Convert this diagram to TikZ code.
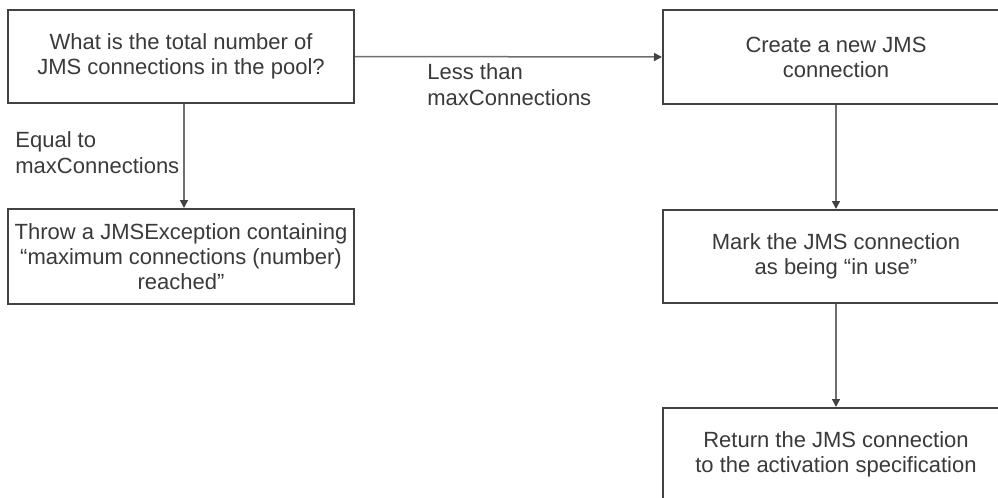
\documentclass[tikz,border=0pt]{standalone}
\usepackage{fontspec}
\setmainfont{Liberation Sans}
\usetikzlibrary{positioning,arrows.meta}
\definecolor{jmsLine}{RGB}{66,66,66}
\definecolor{jmsArrow}{RGB}{110,110,110}
\definecolor{jmsText}{RGB}{58,58,58}

\begin{document}
\begin{tikzpicture}[x=0.5pt, y=-0.5pt,
  stepbox/.style={draw=jmsLine, line width=1pt, fill=white, align=center,
                  text=jmsText, font=\fontsize{11}{12.5}\selectfont,
                  minimum width=173pt, inner sep=0pt},
  branchlabel/.style={align=left, anchor=north west, inner sep=0pt,
                      text=jmsText, font=\fontsize{11}{13}\selectfont},
  flowarr/.style={-{Triangle[length=4pt, width=4pt, color=jmsLine]},
                  line width=0.75pt, jmsArrow}
]
\path[use as bounding box, clip] (0,0) rectangle (998,498);
%% Decision box and its branches
\node[stepbox, minimum height=46.5pt] (ASK)   at (181,56.5)
  {What is the total number of\\JMS connections in the pool?};
\node[stepbox, minimum height=47.5pt] (THROW) at (181,256.5)
  {Throw a JMSException containing\\“maximum connections (number)\\reached”};
%% Right column
\node[stepbox, minimum height=47pt]   (NEW)    at (836,57)
  {Create a new JMS\\connection};
\node[stepbox, minimum height=46.5pt] (MARK)   at (836,256.5)
  {Mark the JMS connection\\as being “in use”};
\node[stepbox, minimum height=46.5pt] (RETURN) at (836,454.5)
  {Return the JMS connection\\to the activation specification};
%% Connectors
\draw[flowarr] ([xshift=1.5pt]ASK.south) -- ([xshift=1.5pt]THROW.north);
\draw[flowarr] (ASK.east) -- (NEW.west);
\draw[flowarr] (NEW) -- (MARK);
\draw[flowarr] (MARK) -- (RETURN);
%% Branch labels
\node[branchlabel] (EQ)   at (15,131)  {Equal to\\maxConnections};
\node[branchlabel] (LESS) at (427,63)  {Less than\\maxConnections};
\end{tikzpicture}
\end{document}
